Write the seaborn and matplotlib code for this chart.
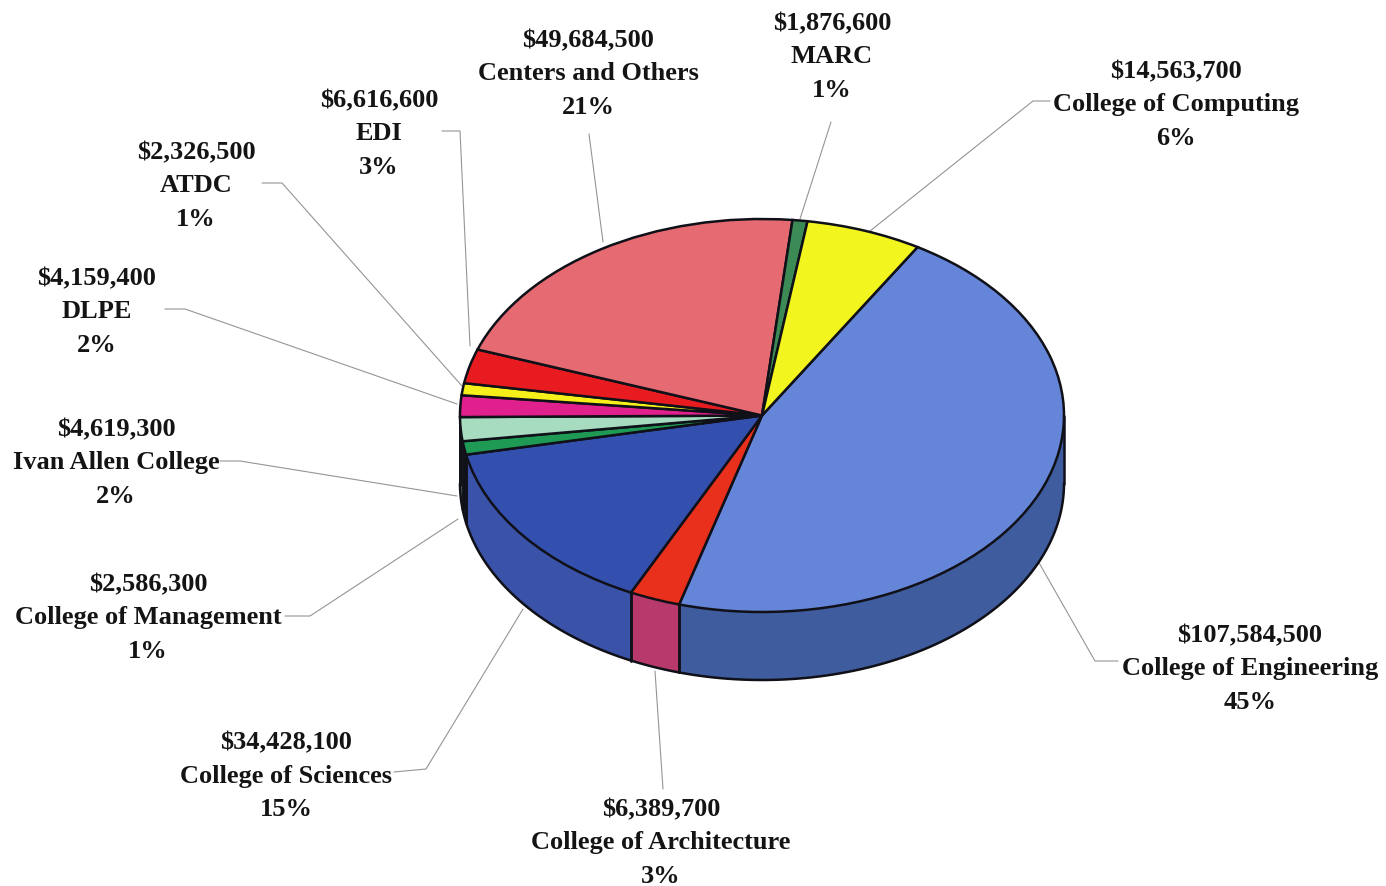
import numpy as np
import matplotlib
matplotlib.use('Agg')
import matplotlib.pyplot as plt
import seaborn as sns

# values, clockwise from the big slice
names = ['College of Engineering', 'College of Architecture', 'College of Sciences',
         'College of Management', 'Ivan Allen College', 'DLPE', 'ATDC', 'EDI',
         'Centers and Others', 'MARC', 'College of Computing']
amounts = [107584500, 6389700, 34428100, 2586300, 4619300, 4159400,
           2326500, 6616600, 49684500, 1876600, 14563700]
percents = [45, 3, 15, 1, 2, 2, 1, 3, 21, 1, 6]

top_colors = ['#6585d8', '#e8301c', '#3450ae', '#1f9a55', '#a8dcc0', '#e0208c',
              '#f5f01a', '#e81c20', '#e56a72', '#3c8a55', '#f2f51e']
side_colors = ['#3f5c9e', '#b83a6c', '#3a52a8', '#14352a', '#5c7a6a', '#7a1050',
               '#88851a', '#801014', '#803a40', '#204c30', '#88881a']

# label centres and leader lines, in picture pixels
label_pos = [(1250, 667), (661, 841), (286, 774), (148, 616), (116, 461), (97, 310),
             (196, 184), (379, 132), (588, 72), (832, 55), (1176, 103)]
leaders = [[(1038, 562), (1095, 662), (1118, 662)],
           [(655, 672), (663, 790)],
           [(523, 610), (426, 770), (394, 773)],
           [(458, 520), (310, 617), (285, 617)],
           [(457, 497), (240, 462), (220, 462)],
           [(457, 405), (185, 310), (165, 310)],
           [(462, 387), (282, 184), (262, 184)],
           [(470, 347), (460, 132), (442, 132)],
           [(603, 243), (589, 135)],
           [(800, 220), (831, 123)],
           [(870, 232), (1033, 102), (1050, 102)]]

W, H = 1386, 887
CX, CY, RX, RY = 762, 416.5, 302, 196.5
DEPTH = 68 / RY


def px(x, y):
    return (x - CX) / RX, (CY - y) / RY


sns.set_theme(style='white')
plt.rcParams['font.family'] = ['Liberation Serif', 'DejaVu Serif']

fig = plt.figure(figsize=(W / 100, H / 100), dpi=100)
ax = fig.add_axes([0, 0, 1, 1])

wedges, _ = ax.pie(amounts, colors=sns.color_palette(top_colors), startangle=59.0,
                   counterclock=False, radius=1,
                   wedgeprops={'edgecolor': '#101018', 'linewidth': 1.8, 'zorder': 3})
ax.set_aspect('auto')
ax.set_xlim(px(0, 0)[0], px(W, 0)[0])
ax.set_ylim(px(0, H)[1], px(0, 0)[1])
ax.axis('off')

# side wall, only the front half of the rim shows
for w, col in zip(wedges, side_colors):
    for shift in (-360, 0, 360):
        lo = max(w.theta1 + shift, -180)
        hi = min(w.theta2 + shift, 0)
        if hi <= lo:
            continue
        t = np.radians(np.linspace(lo, hi, 80))
        x, y = np.cos(t), np.sin(t)
        ax.fill_between(x, y, y - DEPTH, color=col, lw=0, zorder=1)
        ax.plot(x, y - DEPTH, color='#101018', lw=1.8, zorder=2)
        ax.plot([x[0], x[0]], [y[0], y[0] - DEPTH], color='#101018', lw=1.8, zorder=2)
        ax.plot([x[-1], x[-1]], [y[-1], y[-1] - DEPTH], color='#101018', lw=1.8, zorder=2)

for pts in leaders:
    xy = np.array([px(*p) for p in pts])
    ax.plot(xy[:, 0], xy[:, 1], color='#959595', lw=0.8, zorder=0)

for name, amt, pct, pos in zip(names, amounts, percents, label_pos):
    x, y = px(pos[0], pos[1] + 2)
    ax.text(x, y, f'${amt:,}\n{name}\n{pct}%', ha='center', va='center',
            fontsize=19, fontweight='bold', color='#141414', linespacing=1.58)

fig.savefig('out.png', dpi=100, facecolor='white')
